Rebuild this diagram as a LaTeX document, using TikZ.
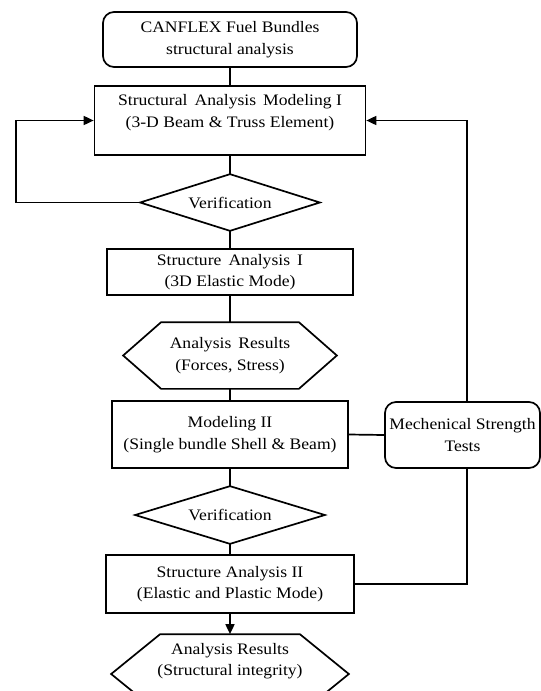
\documentclass[tikz,border=0pt]{standalone}
\usepackage{fontspec}
\setmainfont[FakeStretch=1.1]{Liberation Serif}
\usetikzlibrary{arrows.meta,calc}
\begin{document}
\begin{tikzpicture}[x=1pt,y=-1pt,
  base/.style={font=\fontsize{16}{21.5}\selectfont, align=center, inner sep=2pt, line width=1.7pt},
  boxn/.style={base, draw, rectangle},
  roundn/.style={base, draw, rectangle, rounded corners=11pt},
  plain/.style={base},
  conn/.style={line width=1.7pt},
  arr/.style={conn, -{Triangle[length=10pt,width=9pt]}},
]
\useasboundingbox (0,0) rectangle (541,691);
\fill[white] (0,0) rectangle (541,691);
\clip (0,0) rectangle (541,691);

\node[roundn, minimum width=254pt, minimum height=55pt] (top) at (230,39.5) {CANFLEX Fuel Bundles\\structural analysis};
\node[boxn, minimum width=271pt, minimum height=69pt] (m1) at (230,120.5) {Structural\, Analysis\, Modeling I\\(3-D Beam \& Truss Element)\\[-2pt]};
\node[plain, minimum width=178pt, minimum height=55pt] (d1) at (230,202.5) {Verification};
\node[boxn, minimum width=246pt, minimum height=46pt] (sa1) at (230,272) {Structure\, Analysis\, I\\(3D Elastic Mode)};
\node[plain, minimum width=212pt, minimum height=65pt] (h1) at (230,355.5) {Analysis\, Results\\(Forces, Stress)};
\node[boxn, minimum width=236pt, minimum height=67pt] (m2) at (230,434.5) {Modeling II\\(Single bundle Shell \& Beam)};
\node[roundn, minimum width=155pt, minimum height=66pt] (mech) at (462.5,435) {Mechenical Strength\\Tests};
\node[plain, minimum width=188pt, minimum height=56pt] (d2) at (230,515) {Verification};
\node[boxn, minimum width=248pt, minimum height=58pt] (sa2) at (230,584) {Structure Analysis II\\(Elastic and Plastic Mode)};
\node[plain, minimum width=236pt, minimum height=78pt] (h2) at (230,674) {Analysis Results\\(Structural integrity)\\[8pt]};

% diamonds
\draw[conn] (d1.north) -- (d1.east) -- (d1.south) -- (d1.west) -- cycle;
\draw[conn] (d2.north) -- (d2.east) -- (d2.south) -- (d2.west) -- cycle;
% hexagons
\draw[conn] (h1.west) -- ([xshift=38pt]h1.north west) -- ([xshift=-38pt]h1.north east) -- (h1.east) -- ([xshift=-38pt]h1.south east) -- ([xshift=38pt]h1.south west) -- cycle;
\draw[conn] (h2.west) -- ([xshift=49pt]h2.north west) -- ([xshift=-49pt]h2.north east) -- (h2.east) -- ([xshift=-49pt]h2.south east) -- ([xshift=49pt]h2.south west) -- cycle;

% main chain
\draw[conn] (top.south) -- (m1.north);
\draw[conn] (m1.south) -- (d1.north);
\draw[conn] (d1.south) -- (sa1.north);
\draw[conn] (sa1.south) -- (h1.north);
\draw[conn] (h1.south) -- (m2.north);
\draw[conn] (m2.south) -- (d2.north);
\draw[conn] (d2.south) -- (sa2.north);
\draw[arr] (sa2.south) -- (h2.north);

% loops
\coordinate (lx) at (16,0);
\coordinate (rx) at (467,0);
\draw[arr] (d1.west) -- (d1.west -| lx) |- (m1.west);
\draw[arr] (mech.north -| rx) |- (m1.east);
\draw[conn] (mech.south -| rx) |- (sa2.east);
\draw[conn] (m2.east) -- (mech.west);
\end{tikzpicture}
\end{document}
